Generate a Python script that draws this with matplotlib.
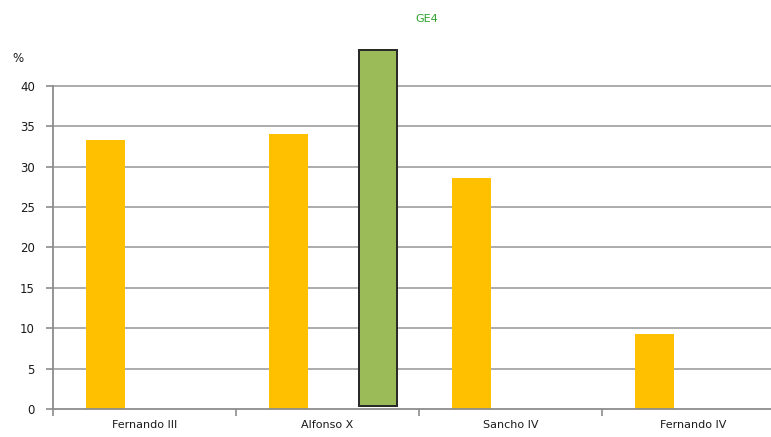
import matplotlib
matplotlib.use("Agg")
import matplotlib.pyplot as plt
import numpy as np

# Share of documents per reign (%)
reigns = ["Fernando III", "Alfonso X", "Sancho IV", "Fernando IV"]
shares = [33.3, 34.1, 28.6, 9.3]

# GE4 range shown as a floating bar inside the Alfonso X group
ge4_label = "GE4"
ge4_category = 1
ge4_low = 0.4
ge4_high = 44.4

y_ticks = [0, 5, 10, 15, 20, 25, 30, 35, 40]

W, H = 771, 437
fig = plt.figure(figsize=(W / 100, H / 100), dpi=100)
left_px, right_px, bottom_px, top_px = 53, 771, 409, 86
ax = fig.add_axes([left_px / W, (H - bottom_px) / H,
                   (right_px - left_px) / W, (bottom_px - top_px) / H])

cat_w_px = 183.0
x = np.arange(len(reigns))
ax.set_xlim(-0.5, -0.5 + (right_px - left_px) / cat_w_px)
ax.set_ylim(0, 40)

# gridlines
for t in y_ticks[1:]:
    ax.axhline(t, color="#a6a6a6", lw=1.3, zorder=0, clip_on=False)

yellow = "#ffc000"
bar_w = 0.215
ax.bar(x - 0.5 + 0.287, shares, width=bar_w, color=yellow, zorder=2)

green_w = 0.205
ax.bar(ge4_category + 0.276, ge4_high - ge4_low, bottom=ge4_low, width=green_w,
       color="#9bbb59", edgecolor="#262626", linewidth=1.4, zorder=3,
       clip_on=False)

# axes styling
for s in ["top", "right"]:
    ax.spines[s].set_visible(False)
ax.spines["left"].set_color("#8c8c8c")
ax.spines["bottom"].set_color("#8c8c8c")
ax.spines["left"].set_linewidth(1.3)
ax.spines["bottom"].set_linewidth(1.3)

ax.set_yticks(y_ticks)
ax.set_yticklabels([str(t) for t in y_ticks], fontsize=8.5, color="#1a1a1a")
ax.tick_params(axis="y", length=5, width=1.2, color="#8c8c8c", pad=8)

ax.set_xticks(x)
ax.set_xticklabels(reigns, fontsize=8, color="#1a1a1a")
ax.tick_params(axis="x", length=0, pad=8)
# category boundary ticks
ax.set_xticks(np.arange(len(reigns)) - 0.5, minor=True)
ax.tick_params(axis="x", which="minor", length=5, width=1.2, color="#8c8c8c")

fig.text(18 / W, 1 - 58 / H, "%", fontsize=8.5, color="#1a1a1a",
         ha="center", va="center")
fig.text(427 / W, 1 - 19 / H, ge4_label, fontsize=8, color="#2ca02c",
         ha="center", va="center")

fig.savefig("out.png", dpi=100)
